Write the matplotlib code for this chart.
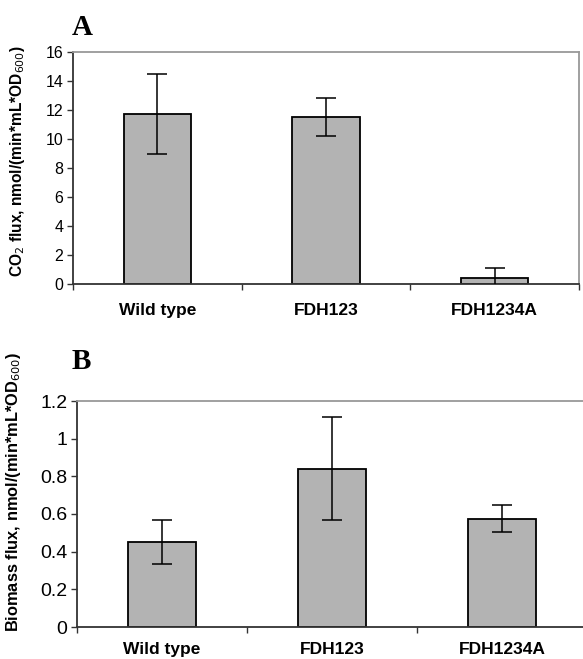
import matplotlib
matplotlib.use("Agg")
import matplotlib.pyplot as plt
import numpy as np

categories = ["Wild type", "FDH123", "FDH1234A"]
co2_flux = [11.7, 11.5, 0.43]
co2_err = [2.75, 1.3, 0.66]
biomass_flux = [0.45, 0.84, 0.575]
biomass_err = [0.118, 0.273, 0.073]

plt.rcParams['font.family'] = ['Liberation Sans', 'DejaVu Sans']

fig = plt.figure(figsize=(5.83, 6.59), dpi=100)

def panel(rect, vals, errs, ylim, yticks, yfmt, ylabel, ylabel_size, label_xy, letter, letter_xy,
          ytick_size, xpad, right_spine):
    ax = fig.add_axes(rect)
    x = np.arange(len(categories))
    ax.bar(x, vals, width=0.40, color='#b3b3b3', edgecolor='black', linewidth=1.3, zorder=2)
    ax.errorbar(x, vals, yerr=errs, fmt='none', ecolor='black', elinewidth=1.1,
                capsize=7.5, capthick=1.1, zorder=3)
    ax.set_xlim(-0.5, 2.5)
    ax.set_ylim(*ylim)
    ax.set_yticks(yticks)
    ax.set_yticklabels([yfmt(v) for v in yticks], fontsize=ytick_size)
    ax.set_xticks(x)
    ax.set_xticklabels(categories, fontsize=12.5, fontweight='bold')
    ax.tick_params(axis='x', which='major', length=0, pad=xpad)
    ax.set_xticks([-0.5, 0.5, 1.5, 2.5], minor=True)
    ax.tick_params(axis='x', which='minor', length=4, width=1, direction='out', color='#333333')
    ax.tick_params(axis='y', length=4, width=1, direction='out', color='#333333', pad=3)
    for s in ['left', 'bottom']:
        ax.spines[s].set_color('#333333')
        ax.spines[s].set_linewidth(1.3)
    ax.spines['top'].set_color('#999999')
    ax.spines['top'].set_linewidth(1.3)
    if right_spine:
        ax.spines['right'].set_color('#999999')
        ax.spines['right'].set_linewidth(1.3)
    else:
        ax.spines['right'].set_visible(False)
    ax.set_ylabel(ylabel, fontsize=ylabel_size, fontweight='bold')
    ax.yaxis.set_label_coords(*label_xy)
    fig.text(letter_xy[0], letter_xy[1], letter, fontsize=21, fontweight='bold',
             family='Liberation Serif', ha='left', va='baseline')
    return ax

panel([73/583, 1-284/659, 506/583, 232/659], co2_flux, co2_err, (0, 16),
      [0, 2, 4, 6, 8, 10, 12, 14, 16], lambda v: f"{v:g}",
      r"CO$_2$ flux, nmol/(min*mL*OD$_{600}$)", 11.2, (-0.09, 0.53),
      "A", (72/583, 1-35/659), 11.5, 14, True)

panel([77/583, 1-627/659, 510/583, 226/659], biomass_flux, biomass_err, (0, 1.2),
      [0, 0.2, 0.4, 0.6, 0.8, 1.0, 1.2], lambda v: f"{v:g}",
      r"Biomass flux, nmol/(min*mL*OD$_{600}$)", 11.8, (-0.105, 0.6),
      "B", (72/583, 1-369/659), 14, 10.5, False)

fig.savefig("out.png", dpi=100)
